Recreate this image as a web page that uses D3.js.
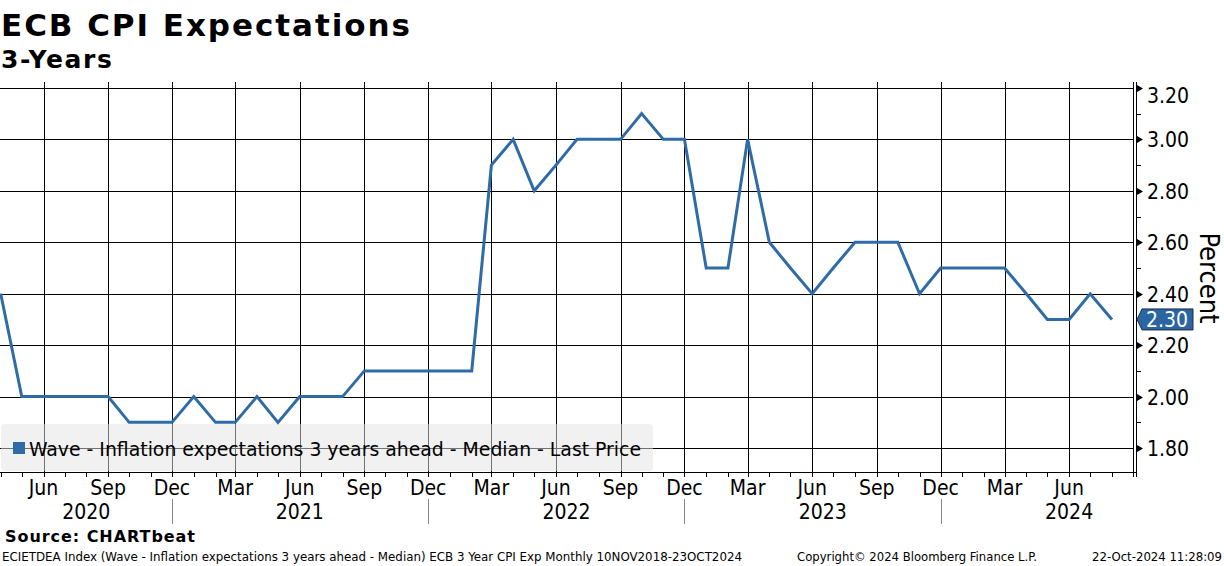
<!DOCTYPE html>
<html>
<head>
<meta charset="utf-8">
<script src="https://cdn.jsdelivr.net/npm/d3@7"></script>
<style>
  body { margin: 0; background: #fff; }
  svg text { font-family: "DejaVu Sans Condensed", "DejaVu Sans", sans-serif; font-stretch: condensed; }
  .bold { font-family: "DejaVu Sans", sans-serif !important; font-stretch: normal !important; font-weight: bold; }
</style>
</head>
<body>
<div id="chart"></div>
<script>
// ECB Consumer Expectations Survey, 3y ahead median, monthly
var months = ["2020-04","2020-05","2020-06","2020-07","2020-08","2020-09","2020-10","2020-11","2020-12",
  "2021-01","2021-02","2021-03","2021-04","2021-05","2021-06","2021-07","2021-08","2021-09","2021-10","2021-11","2021-12",
  "2022-01","2022-02","2022-03","2022-04","2022-05","2022-06","2022-07","2022-08","2022-09","2022-10","2022-11","2022-12",
  "2023-01","2023-02","2023-03","2023-04","2023-05","2023-06","2023-07","2023-08","2023-09","2023-10","2023-11","2023-12",
  "2024-01","2024-02","2024-03","2024-04","2024-05","2024-06","2024-07","2024-08"];
var values = [2.4,2.0,2.0,2.0,2.0,2.0,1.9,1.9,1.9,
  2.0,1.9,1.9,2.0,1.9,2.0,2.0,2.0,2.1,2.1,2.1,2.1,
  2.1,2.1,2.9,3.0,2.8,2.9,3.0,3.0,3.0,3.1,3.0,3.0,
  2.5,2.5,3.0,2.6,2.5,2.4,2.5,2.6,2.6,2.6,2.4,2.5,
  2.5,2.5,2.5,2.4,2.3,2.3,2.4,2.3];
var yTicks = [1.8, 2.0, 2.2, 2.4, 2.6, 2.8, 3.0, 3.2];
var yMinorTicks = [1.9, 2.1, 2.3, 2.5, 2.7, 2.9, 3.1];
var years = ["2020", "2021", "2022", "2023", "2024"];
var yearLabelDates = ["2020-08-01", "2021-06-01", "2022-06-16", "2023-06-16", "2024-06-01"];
var yearBreaks = ["2020-12-01", "2021-12-01", "2022-12-01", "2023-12-01"];
var lastPrice = 2.30;

var W = 1224, H = 566;
// plot box (window.top is read-only, so prefixed names)
var pLeft = 0, pRight = 1133, pTop = 82, pBottom = 472;
var blue = "#2e6ba7";

var parseM = d3.utcParse("%Y-%m");
var parseD = d3.utcParse("%Y-%m-%d");
var data = months.map(function(m, i) { return {date: parseM(m), value: values[i]}; });

var svg = d3.select("#chart").append("svg")
  .attr("width", W).attr("height", H);

var x = d3.scaleUtc()
  .domain([parseD("2020-03-31"), parseD("2024-08-31")])
  .range([pLeft, pRight]);
var y = d3.scaleLinear()
  .domain([1.707, 3.223])
  .range([pBottom, pTop]);

var allMonths = d3.utcMonth.range(parseD("2020-04-01"), parseD("2024-09-01"));
var quarterMonths = allMonths.filter(function(d) { return d.getUTCMonth() % 3 === 2; });

// vertical grid
svg.append("g")
  .selectAll("line").data(quarterMonths).enter().append("line")
    .attr("x1", function(d) { return Math.round(x(d)) + 0.5; }).attr("x2", function(d) { return Math.round(x(d)) + 0.5; })
    .attr("y1", pTop).attr("y2", pBottom)
    .attr("stroke", "#000").attr("stroke-width", 1);

// horizontal grid
svg.append("g")
  .selectAll("line").data(yTicks).enter().append("line")
    .attr("x1", pLeft).attr("x2", pRight)
    .attr("y1", function(d) { return Math.round(y(d)) + 0.5; }).attr("y2", function(d) { return Math.round(y(d)) + 0.5; })
    .attr("stroke", "#000").attr("stroke-width", 1);

// legend (semi transparent, grid shows through)
svg.append("rect")
  .attr("x", 1).attr("y", 424).attr("width", 652).attr("height", 47).attr("rx", 4)
  .attr("fill", "#e4e4e4").attr("fill-opacity", 0.5);
svg.append("rect")
  .attr("x", 13).attr("y", 442).attr("width", 12).attr("height", 12).attr("fill", blue);
svg.append("text")
  .attr("x", 29).attr("y", 456)
  .attr("font-size", 19)
  .attr("textLength", 612).attr("lengthAdjust", "spacingAndGlyphs")
  .text("Wave - Inflation expectations 3 years ahead - Median - Last Price");

// series
var line = d3.line()
  .x(function(d) { return x(d.date); })
  .y(function(d) { return y(d.value); });
svg.append("path").datum(data)
  .attr("d", line)
  .attr("fill", "none").attr("stroke", blue).attr("stroke-width", 3)
  .attr("stroke-linejoin", "miter");

// bottom axis
svg.append("line")
  .attr("x1", 0).attr("x2", 1137).attr("y1", pBottom + 0.5).attr("y2", pBottom + 0.5)
  .attr("stroke", "#000");
svg.append("g")
  .selectAll("line").data(allMonths).enter().append("line")
    .attr("x1", function(d) { return Math.round(x(d)) + 0.5; }).attr("x2", function(d) { return Math.round(x(d)) + 0.5; })
    .attr("y1", pBottom).attr("y2", pBottom + 5)
    .attr("stroke", "#000");

var fmtMonth = d3.utcFormat("%b");
svg.append("g")
  .selectAll("text").data(quarterMonths).enter().append("text")
    .attr("x", function(d) { return x(d); }).attr("y", 495)
    .attr("text-anchor", "middle").attr("font-size", 21)
    .text(function(d) { return fmtMonth(d); });

svg.append("g")
  .selectAll("text").data(years).enter().append("text")
    .attr("x", function(d, i) { return x(parseD(yearLabelDates[i])); }).attr("y", 519)
    .attr("text-anchor", "middle").attr("font-size", 21)
    .text(function(d) { return d; });

svg.append("g")
  .selectAll("line").data(yearBreaks).enter().append("line")
    .attr("x1", function(d) { return Math.round(x(parseD(d))) + 0.5; }).attr("x2", function(d) { return Math.round(x(parseD(d))) + 0.5; })
    .attr("y1", 499).attr("y2", 524)
    .attr("stroke", "#888");

// right axis
svg.append("line").attr("x1", pRight + 0.5).attr("x2", pRight + 0.5).attr("y1", pTop).attr("y2", pBottom + 5)
  .attr("stroke", "#000");
svg.append("line").attr("x1", pRight + 3.5).attr("x2", pRight + 3.5).attr("y1", pTop).attr("y2", pBottom + 5)
  .attr("stroke", "#000");
svg.append("g")
  .selectAll("path").data(yTicks).enter().append("path")
    .attr("d", function(d) {
      var yy = Math.round(y(d)) + 0.5;
      return "M" + (pRight + 4) + "," + (yy - 3.5) + "L" + (pRight + 10) + "," + yy + "L" + (pRight + 4) + "," + (yy + 3.5) + "Z";
    })
    .attr("fill", "#000");
svg.append("g")
  .selectAll("line").data(yMinorTicks).enter().append("line")
    .attr("x1", pRight + 4).attr("x2", pRight + 8)
    .attr("y1", function(d) { return Math.round(y(d)) + 0.5; }).attr("y2", function(d) { return Math.round(y(d)) + 0.5; })
    .attr("stroke", "#000");
// top label gets pushed down so it stays inside the frame
svg.append("g")
  .selectAll("text").data(yTicks).enter().append("text")
    .attr("x", pRight + 14).attr("y", function(d) { return Math.max(y(d) + 8, 103); })
    .attr("font-size", 21)
    .text(d3.format(".2f"));

svg.append("text")
  .attr("transform", "translate(1200,278) rotate(90)")
  .attr("text-anchor", "middle").attr("font-size", 27)
  .text("Percent");

// last price tag
var ly = y(lastPrice);
svg.append("path")
  .attr("d", "M" + (pRight + 4) + "," + ly + "L" + (pRight + 9) + "," + (ly - 10.5) + "L" + 1193 + "," + (ly - 10.5) +
             "L" + 1193 + "," + (ly + 10.5) + "L" + (pRight + 9) + "," + (ly + 10.5) + "Z")
  .attr("fill", "#2b66a3").attr("stroke", "#1b2d45").attr("stroke-width", 1);
svg.append("text")
  .attr("x", pRight + 13).attr("y", ly + 8)
  .attr("font-size", 21).attr("fill", "#fff")
  .text(d3.format(".2f")(lastPrice));

// titles
svg.append("text").attr("class", "bold")
  .attr("x", 1).attr("y", 36).attr("font-size", 31)
  .attr("textLength", 409).attr("lengthAdjust", "spacing")
  .text("ECB CPI Expectations");
svg.append("text").attr("class", "bold")
  .attr("x", 1).attr("y", 68).attr("font-size", 25)
  .attr("textLength", 111).attr("lengthAdjust", "spacing")
  .text("3-Years");

// footer
svg.append("text").attr("class", "bold")
  .attr("x", 5).attr("y", 542).attr("font-size", 16)
  .attr("textLength", 190).attr("lengthAdjust", "spacing")
  .text("Source: CHARTbeat");
svg.append("text")
  .attr("x", 2).attr("y", 561).attr("font-size", 13)
  .attr("textLength", 740).attr("lengthAdjust", "spacingAndGlyphs")
  .text("ECIETDEA Index (Wave - Inflation expectations 3 years ahead - Median) ECB 3 Year CPI Exp  Monthly 10NOV2018-23OCT2024");
svg.append("text")
  .attr("x", 797).attr("y", 561).attr("font-size", 13)
  .attr("textLength", 240).attr("lengthAdjust", "spacingAndGlyphs")
  .text("Copyright\u00a9 2024 Bloomberg Finance L.P.");
svg.append("text")
  .attr("x", 1092).attr("y", 561).attr("font-size", 13)
  .attr("textLength", 130).attr("lengthAdjust", "spacingAndGlyphs")
  .text("22-Oct-2024 11:28:09");
</script>
</body>
</html>
